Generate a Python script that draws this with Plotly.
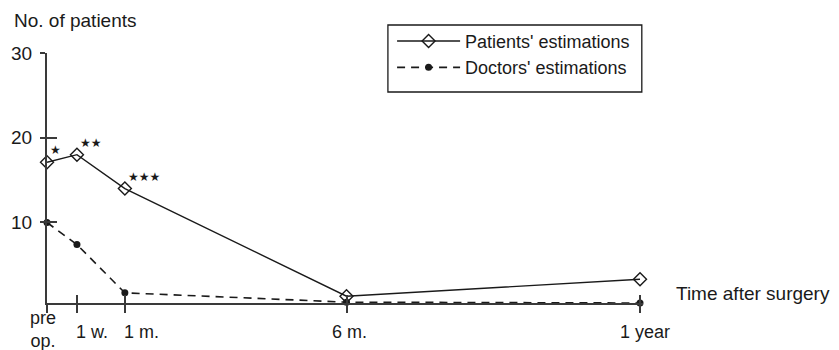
import plotly.graph_objects as go

# ---- data ----
time_labels = ["pre<br>op.", "1 w.", "1 m.", "6 m.", "1 year"]
time_pos = [0, 1, 2.6, 10, 19.8]          # axis position of each time point
patients = [17.1, 18.0, 14.0, 1.3, 3.3]
doctors = [10.0, 7.4, 1.7, 0.6, 0.5]
signif = ["★", "★★", "★★★", "", ""]
y_ticks = [10, 20, 30]

FONT = "Liberation Sans, Arial, sans-serif"
INK = "#1a1a1a"
AX = "#3a3a3a"

# label placement styles (anchor, xshift, yshift) per tick label
label_style = {
    "pre<br>op.": ("center", -4, 3),
    "1 w.": ("left", -3, 0),
    "1 m.": ("left", -3, 0),
    "6 m.": ("center", 3, 0),
    "1 year": ("center", 5, 0),
}

fig = go.Figure()
fig.add_trace(go.Scatter(
    x=time_pos, y=patients, name="Patients' estimations", mode="lines+markers",
    line=dict(color=INK, width=1.4),
    marker=dict(symbol="diamond-open", size=10, color=INK, line=dict(width=1.4)),
    cliponaxis=False))
fig.add_trace(go.Scatter(
    x=time_pos, y=doctors, name="Doctors' estimations", mode="lines+markers",
    line=dict(color=INK, width=1.6, dash="8px,6px"),
    marker=dict(symbol="circle", size=7, color=INK),
    cliponaxis=False))
# invisible trace to carry the overlay axes (inside half of crossing ticks)
fig.add_trace(go.Scatter(x=time_pos, y=patients, xaxis="x2", yaxis="y2",
                         mode="markers", marker=dict(opacity=0), showlegend=False,
                         hoverinfo="skip"))

for xv, yv, s in zip(time_pos, patients, signif):
    if s:
        fig.add_annotation(x=xv, y=yv, text=s, showarrow=False, xanchor="left",
                           yanchor="middle", xshift=1, yshift=12,
                           font=dict(size=12, color=INK, family="DejaVu Sans"))

for xv, lab in zip(time_pos, time_labels):
    anc, xs, ys = label_style[lab]
    fig.add_annotation(x=xv, xref="x", y=-0.116, yref="paper", text=lab,
                       showarrow=False, xanchor=anc, yanchor="middle",
                       xshift=xs, yshift=ys,
                       font=dict(size=18, color=INK, family=FONT))

fig.add_annotation(x=-0.0587, y=1.13, xref="paper", yref="paper", text="No. of patients",
                   showarrow=False, xanchor="left", yanchor="middle",
                   font=dict(size=19, color=INK, family=FONT))
fig.add_annotation(x=1.052, y=0.04, xref="paper", yref="paper", text="Time after surgery",
                   showarrow=False, xanchor="left", yanchor="middle",
                   font=dict(size=19, color=INK, family=FONT))

fig.add_shape(type="rect", xref="paper", yref="paper", x0=0.572, x1=0.998, y0=0.844, y1=1.112,
              line=dict(color=INK, width=1.3), fillcolor="rgba(0,0,0,0)")

axis_common = dict(showgrid=False, zeroline=False)
fig.update_layout(
    width=839, height=350,
    margin=dict(l=47, r=196, t=53, b=47, autoexpand=False),
    paper_bgcolor="white", plot_bgcolor="white",
    font=dict(family=FONT, size=18, color=INK),
    xaxis=dict(range=[0, 19.9], tickvals=time_pos, showticklabels=False,
               ticks="outside", ticklen=8, tickwidth=1.5, tickcolor=AX,
               showline=True, linecolor=AX, linewidth=1.5, **axis_common),
    yaxis=dict(range=[0.5, 30], tickvals=y_ticks, ticks="outside", ticklen=5,
               tickwidth=1.5, tickcolor=AX, ticklabelstandoff=4,
               tickfont=dict(size=19, color=INK),
               showline=True, linecolor=AX, linewidth=2, **axis_common),
    xaxis2=dict(range=[0, 19.9], overlaying="x", anchor="y", side="bottom",
                tickvals=time_pos, showticklabels=False, ticks="inside", ticklen=8,
                tickwidth=1.5, tickcolor=AX, showline=False, **axis_common),
    yaxis2=dict(range=[0.5, 30], overlaying="y", anchor="x", side="left",
                tickvals=y_ticks, showticklabels=False, ticks="inside", ticklen=10,
                tickwidth=1.5, tickcolor=AX, showline=False, **axis_common),
    legend=dict(x=0.579, y=1.121, xanchor="left", yanchor="top",
                bgcolor="rgba(0,0,0,0)", borderwidth=0, itemwidth=63,
                font=dict(size=18, color=INK, family=FONT), tracegroupgap=0),
    showlegend=True,
)

fig.write_html("out.html", config={"displayModeBar": False},
               post_script="document.body.style.margin='0';document.body.style.overflow='hidden';")
